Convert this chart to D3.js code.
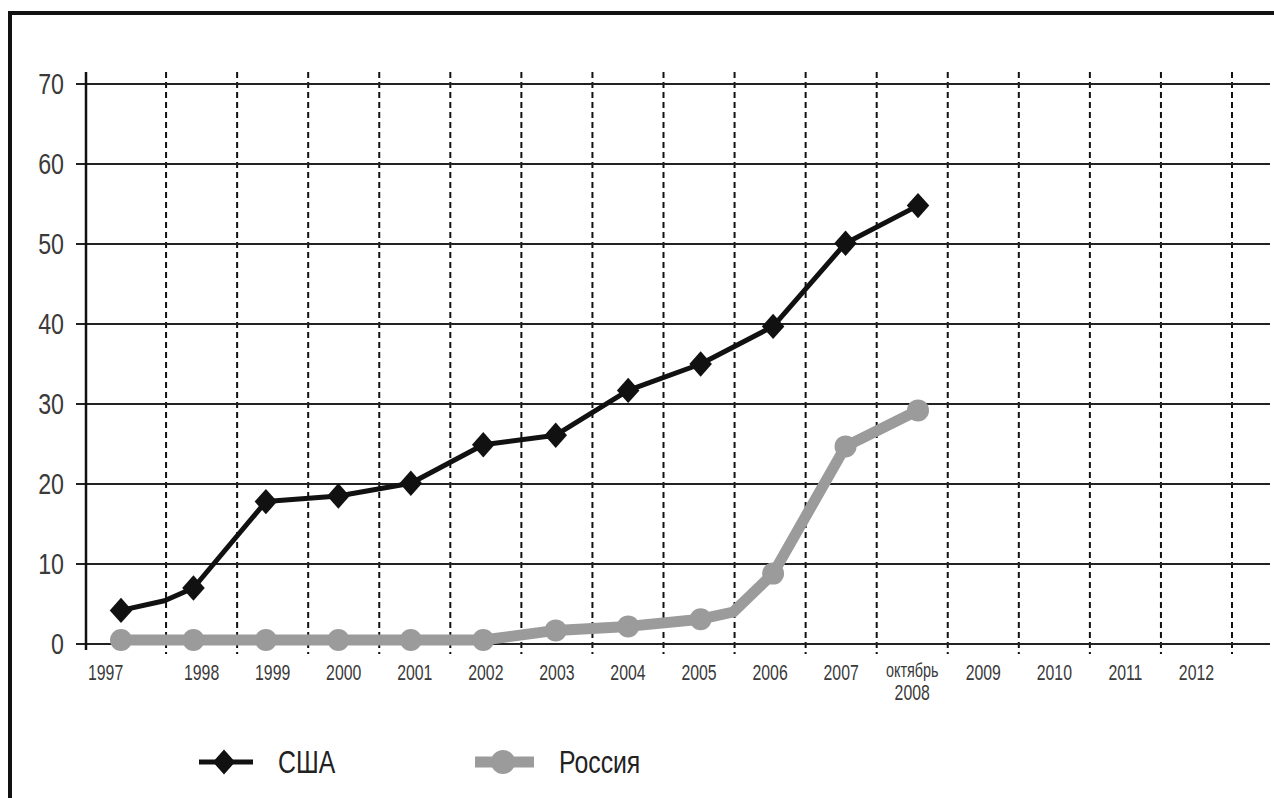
<!DOCTYPE html>
<html>
<head>
<meta charset="utf-8">
<script src="https://cdn.jsdelivr.net/npm/d3@7"></script>
<style>
	body { margin: 0; background: #fff; }
	svg { display: block; }
</style>
</head>
<body>
<div data-chart></div>
<script>
const categories = ['1997', '1998', '1999', '2000', '2001', '2002', '2003', '2004', '2005', '2006', '2007', 'октябрь|2008', '2009', '2010', '2011', '2012']
const yTicks = [0, 10, 20, 30, 40, 50, 60, 70]

// x is the position on the year index (0 = 1997), fractions are visible kinks
const usaX = [0, 0.6, 1, 2, 3, 4, 5, 6, 7, 8, 9, 10, 11]
const usaValues = [4.2, 5.4, 7.0, 17.8, 18.5, 20.1, 24.9, 26.1, 31.7, 35.0, 39.7, 50.1, 54.8]

const russiaX = [0, 1, 2, 3, 4, 5, 6, 7, 8, 8.45, 9, 10, 11]
const russiaValues = [0.5, 0.5, 0.5, 0.5, 0.5, 0.5, 1.7, 2.2, 3.1, 4.0, 8.8, 24.7, 29.2]

const legendLabels = ['США', 'Россия']

const dimensions = {
	width: 1274,
	height: 798,
	axisX: 86,
	gridLeft: 76,
	gridRight: 1270,
	top: 84,
	bottom: 644,
	dashTop: 72,
	dashBottom: 654
}

const usa = usaX.map((x, i) => ({ x, v: usaValues[i] }))
const russia = russiaX.map((x, i) => ({ x, v: russiaValues[i] }))

const svg = d3.select('[data-chart]')
	.append('svg')
	.attr('width', dimensions.width)
	.attr('height', dimensions.height)
	.attr('viewBox', `0 0 ${dimensions.width} ${dimensions.height}`)

/* Frame */
svg.append('path')
	.attr('d', `M10,${dimensions.height} L10,13 L${dimensions.width},13`)
	.attr('fill', 'none')
	.attr('stroke', '#111')
	.attr('stroke-width', 4)

/* Scales */
const yScale = d3.scaleLinear()
	.domain([0, 70])
	.range([dimensions.bottom, dimensions.top])

const xBand = d3.scaleBand()
	.domain(categories)
	.range([95, 1232])

const xData = d3.scaleLinear()
	.domain([0, 11])
	.range([121, 918])

const narrow = (x, y, s) => `translate(${x},${y}) scale(${s},1)`

/* Grid */
svg.append('g')
	.selectAll('line')
	.data(categories)
	.join('line')
	.attr('x1', (d) => xBand(d) + xBand.bandwidth())
	.attr('x2', (d) => xBand(d) + xBand.bandwidth())
	.attr('y1', dimensions.dashTop)
	.attr('y2', dimensions.dashBottom)
	.attr('stroke', '#111')
	.attr('stroke-width', 2)
	.attr('stroke-dasharray', '6,4')

svg.append('g')
	.selectAll('line')
	.data(yTicks)
	.join('line')
	.attr('x1', dimensions.gridLeft)
	.attr('x2', dimensions.gridRight)
	.attr('y1', (d) => yScale(d))
	.attr('y2', (d) => yScale(d))
	.attr('stroke', '#222')
	.attr('stroke-width', 2)

svg.append('line')
	.attr('x1', dimensions.axisX)
	.attr('x2', dimensions.axisX)
	.attr('y1', dimensions.dashTop)
	.attr('y2', dimensions.dashBottom - 4)
	.attr('stroke', '#111')
	.attr('stroke-width', 2.5)

/* Y labels */
svg.append('g')
	.selectAll('text')
	.data(yTicks)
	.join('text')
	.attr('transform', (d) => narrow(64, yScale(d) + 10, 0.8))
	.attr('text-anchor', 'end')
	.attr('font-family', 'Liberation Sans, Arial, sans-serif')
	.attr('font-size', 29)
	.attr('fill', '#3a3a3a')
	.text((d) => d)

/* X labels */
const xLabels = svg.append('g')
	.selectAll('text')
	.data(categories)
	.join('text')
	.attr('transform', (d, i) => i === 0
		? narrow(xBand(d) - 7, 680, 0.72)
		: narrow(xBand(d) + xBand.bandwidth() / 2, 680, 0.72))
	.attr('text-anchor', (d, i) => i === 0 ? 'start' : 'middle')
	.attr('font-family', 'Liberation Sans, Arial, sans-serif')
	.attr('font-size', 22)
	.attr('fill', '#3a3a3a')

xLabels.each(function (d) {
	const parts = d.split('|')
	const text = d3.select(this)
	parts.forEach((p, j) => {
		text.append('tspan')
			.attr('x', 0)
			.attr('dy', j === 0 ? (parts.length > 1 ? -3 : 0) : 23)
			.attr('font-size', parts.length > 1 && j === 0 ? 20 : 22)
			.text(p)
	})
})

/* Lines */
const lineGenerator = d3.line()
	.x((d) => xData(d.x))
	.y((d) => yScale(d.v))

svg.append('path')
	.datum(russia)
	.attr('d', lineGenerator)
	.attr('fill', 'none')
	.attr('stroke', '#9b9b9b')
	.attr('stroke-width', 11)
	.attr('stroke-linejoin', 'round')

svg.append('g')
	.selectAll('circle')
	.data(russia.filter((d) => Number.isInteger(d.x)))
	.join('circle')
	.attr('cx', (d) => xData(d.x))
	.attr('cy', (d) => yScale(d.v))
	.attr('r', 11)
	.attr('fill', '#9b9b9b')

svg.append('path')
	.datum(usa)
	.attr('d', lineGenerator)
	.attr('fill', 'none')
	.attr('stroke', '#111')
	.attr('stroke-width', 5)
	.attr('stroke-linejoin', 'round')

const diamond = {
	draw(context, size) {
		const w = Math.sqrt(size) * 0.47
		const h = Math.sqrt(size) * 0.53
		context.moveTo(0, -h)
		context.lineTo(w, 0)
		context.lineTo(0, h)
		context.lineTo(-w, 0)
		context.closePath()
	}
}

const diamondPath = d3.symbol().type(diamond).size(576)

svg.append('g')
	.selectAll('path')
	.data(usa.filter((d) => Number.isInteger(d.x)))
	.join('path')
	.attr('transform', (d) => `translate(${xData(d.x)},${yScale(d.v)})`)
	.attr('d', diamondPath)
	.attr('fill', '#111')

/* Legend */
const legend = svg.append('g').attr('transform', 'translate(0,762)')

legend.append('line')
	.attr('x1', 199).attr('x2', 253)
	.attr('stroke', '#111').attr('stroke-width', 5)
legend.append('path')
	.attr('transform', 'translate(224,0)')
	.attr('d', d3.symbol().type(diamond).size(560)())
	.attr('fill', '#111')

legend.append('line')
	.attr('x1', 475).attr('x2', 534)
	.attr('stroke', '#9b9b9b').attr('stroke-width', 11)
legend.append('circle')
	.attr('cx', 503).attr('r', 12)
	.attr('fill', '#9b9b9b')

legend.selectAll('text')
	.data(legendLabels)
	.join('text')
	.attr('transform', (d, i) => narrow(i === 0 ? 278 : 559, 11, 0.8))
	.attr('font-family', 'Liberation Sans, Arial, sans-serif')
	.attr('font-size', 31)
	.attr('fill', '#222')
	.text((d) => d)
</script>
</body>
</html>
